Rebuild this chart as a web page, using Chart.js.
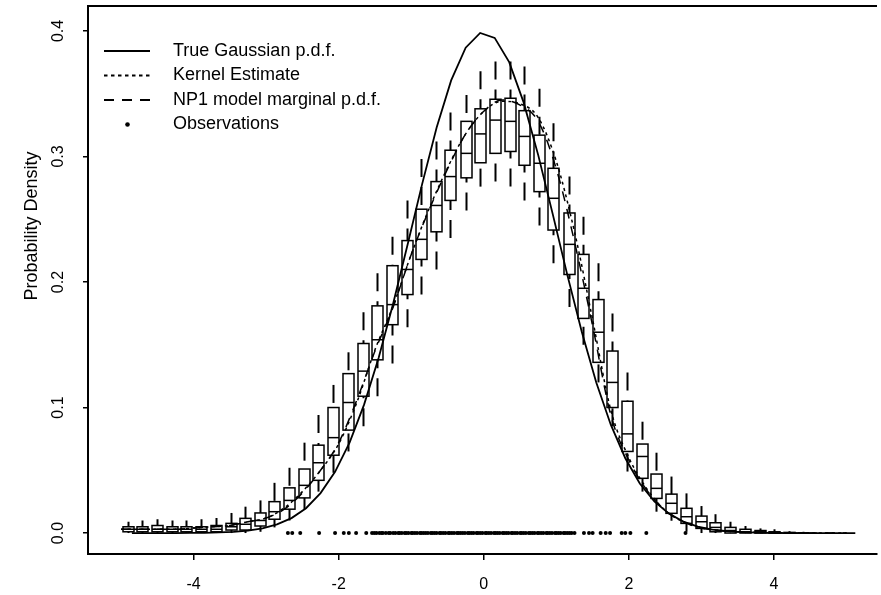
<!DOCTYPE html>
<html>
<head>
<meta charset="utf-8">
<script src="https://cdn.jsdelivr.net/npm/chart.js@4.4.0/dist/chart.umd.min.js"></script>
<style>
  html, body { margin: 0; padding: 0; background: #fff; }
  #wrap { width: 881px; height: 595px; }
</style>
</head>
<body>
<div id="wrap"><canvas id="densityChart" width="881" height="595"></canvas></div>
<script>
// box positions along x and the five numbers of each box
const boxX = [-4.91, -4.71, -4.50, -4.30, -4.10, -3.90, -3.69, -3.49, -3.29, -3.09,
  -2.89, -2.68, -2.48, -2.28, -2.08, -1.87, -1.67, -1.47, -1.27, -1.06,
  -0.86, -0.66, -0.46, -0.25, -0.05, 0.15, 0.36, 0.56, 0.76, 0.96,
  1.17, 1.37, 1.57, 1.77, 1.98, 2.18, 2.38, 2.58, 2.79, 2.99,
  3.19, 3.39, 3.60, 3.80, 4.00, 4.20, 4.40];
const boxLow = [0, 0, 0, 0, 0, 0, 0, 0, 0, 0.001,
  0.0045, 0.010, 0.019, 0.033, 0.048, 0.065, 0.085, 0.109, 0.135, 0.164,
  0.190, 0.210, 0.235, 0.257, 0.276, 0.280, 0.276, 0.265, 0.245, 0.215,
  0.180, 0.150, 0.120, 0.085, 0.049, 0.033, 0.017, 0.0098, 0.001, 0,
  0, 0, 0, 0, 0, 0, 0];
const boxQ1 = [0.001, 0.001, 0.001, 0.001, 0.001, 0.001, 0.001, 0.0024, 0.0024, 0.0056,
  0.011, 0.019, 0.028, 0.042, 0.062, 0.082, 0.109, 0.138, 0.166, 0.190,
  0.218, 0.240, 0.265, 0.283, 0.295, 0.3025, 0.304, 0.293, 0.272, 0.2414,
  0.206, 0.171, 0.136, 0.100, 0.065, 0.0436, 0.0276, 0.0157, 0.0077, 0.0037,
  0.001, 0, 0, 0, 0, 0, 0];
const boxMed = [0.003, 0.003, 0.003, 0.003, 0.003, 0.003, 0.003, 0.005, 0.007, 0.010,
  0.017, 0.026, 0.038, 0.056, 0.076, 0.104, 0.129, 0.154, 0.182, 0.210,
  0.234, 0.261, 0.284, 0.3025, 0.318, 0.329, 0.328, 0.316, 0.2946, 0.2667,
  0.230, 0.195, 0.160, 0.120, 0.079, 0.061, 0.0356, 0.0237, 0.013, 0.009,
  0.0045, 0.002, 0.001, 0.001, 0, 0, 0];
const boxQ3 = [0.005, 0.005, 0.006, 0.005, 0.005, 0.005, 0.006, 0.0077, 0.0117, 0.016,
  0.025, 0.036, 0.051, 0.070, 0.100, 0.127, 0.151, 0.181, 0.213, 0.233,
  0.258, 0.280, 0.305, 0.328, 0.338, 0.3456, 0.3464, 0.3365, 0.317, 0.2906,
  0.255, 0.222, 0.186, 0.145, 0.105, 0.0709, 0.047, 0.031, 0.0197, 0.0135,
  0.0082, 0.0045, 0.003, 0.002, 0.001, 0.0005, 0];
const boxHigh = [0.009, 0.010, 0.011, 0.010, 0.010, 0.011, 0.012, 0.016, 0.021, 0.026,
  0.040, 0.052, 0.072, 0.094, 0.118, 0.144, 0.176, 0.207, 0.236, 0.265,
  0.298, 0.312, 0.335, 0.349, 0.368, 0.3756, 0.3756, 0.3716, 0.354, 0.3265,
  0.284, 0.252, 0.215, 0.175, 0.128, 0.0887, 0.064, 0.045, 0.0316, 0.0215,
  0.015, 0.009, 0.0056, 0.0037, 0.003, 0.0015, 0.001];

// true N(0,1) density as drawn
const gaussX = [-4.85, -4.65, -4.45, -4.25, -4.05, -3.85, -3.65, -3.45, -3.25, -3.05,
  -2.85, -2.65, -2.45, -2.25, -2.05, -1.85, -1.65, -1.45, -1.25, -1.05,
  -0.85, -0.65, -0.45, -0.25, -0.05, 0.15, 0.35, 0.55, 0.75, 0.95,
  1.15, 1.35, 1.55, 1.75, 1.95, 2.15, 2.35, 2.55, 2.75, 2.95,
  3.15, 3.35, 3.55, 3.75, 3.95, 4.15, 4.35, 4.55, 4.75, 4.95, 5.12];
const gaussY = [0, 0, 0, 0, 0.0001, 0.0002, 0.0005, 0.0010, 0.0020, 0.0038,
  0.0069, 0.0119, 0.0198, 0.0318, 0.0488, 0.0721, 0.1023, 0.1395, 0.1827, 0.2299,
  0.2780, 0.3231, 0.3606, 0.3867, 0.3984, 0.3945, 0.3752, 0.3429, 0.3011, 0.2541,
  0.2059, 0.1604, 0.1200, 0.0863, 0.0596, 0.0395, 0.0252, 0.0155, 0.0091, 0.0051,
  0.0028, 0.0015, 0.0007, 0.0004, 0.0002, 0, 0, 0, 0, 0, 0];

const kernelX = [-5, -4.75, -4.5, -4.25, -4, -3.75, -3.5, -3.25, -3, -2.75,
  -2.5, -2.25, -2, -1.75, -1.5, -1.25, -1, -0.75, -0.5, -0.25,
  0, 0.25, 0.5, 0.75, 1, 1.25, 1.5, 1.75, 2, 2.25,
  2.5, 2.75, 3, 3.25, 3.5, 3.75, 4, 4.5, 5];
const kernelY = [0.003, 0.003, 0.003, 0.003, 0.004, 0.005, 0.006, 0.009, 0.012, 0.020,
  0.033, 0.050, 0.071, 0.104, 0.146, 0.181, 0.222, 0.259, 0.291, 0.318,
  0.336, 0.344, 0.342, 0.331, 0.296, 0.240, 0.170, 0.098, 0.060, 0.035,
  0.018, 0.009, 0.004, 0.002, 0.001, 0.0005, 0.0002, 0.0001, 0];

const np1X = [-5, -4.75, -4.5, -4.25, -4, -3.75, -3.5, -3.25, -3, -2.75,
  -2.5, -2.25, -2, -1.75, -1.5, -1.25, -1, -0.75, -0.5, -0.25,
  0, 0.25, 0.5, 0.75, 1, 1.25, 1.5, 1.75, 2, 2.25,
  2.5, 2.75, 3, 3.25, 3.5, 3.75, 4, 4.5, 5];
const np1Y = [0.003, 0.003, 0.003, 0.003, 0.004, 0.005, 0.006, 0.009, 0.012, 0.019,
  0.032, 0.050, 0.072, 0.106, 0.145, 0.180, 0.222, 0.258, 0.290, 0.318,
  0.336, 0.345, 0.341, 0.328, 0.290, 0.232, 0.165, 0.094, 0.058, 0.034,
  0.018, 0.009, 0.004, 0.002, 0.001, 0.0005, 0.0002, 0.0001, 0];

const obsX = [-2.70, -2.64, -2.53, -2.27, -2.05, -1.93, -1.86, -1.76, -1.62,
  -1.54, -1.51, -1.48, -1.44, -1.41, -1.39, -1.35, -1.31, -1.29, -1.25,
  -1.22, -1.18, -1.16, -1.13, -1.09, -1.07, -1.04, -1.00, -0.98, -0.95,
  -0.92, -0.88, -0.86, -0.83, -0.80, -0.77, -0.73, -0.71, -0.68, -0.65,
  -0.61, -0.59, -0.56, -0.53, -0.49, -0.47, -0.44, -0.41, -0.37, -0.35,
  -0.32, -0.29, -0.26, -0.22, -0.20, -0.17, -0.14, -0.10, -0.08, -0.05,
  -0.02, 0.02, 0.04, 0.07, 0.10, 0.14, 0.16, 0.19, 0.22, 0.26,
  0.28, 0.31, 0.34, 0.38, 0.40, 0.43, 0.46, 0.50, 0.52, 0.55,
  0.58, 0.62, 0.64, 0.67, 0.70, 0.74, 0.76, 0.79, 0.82, 0.86,
  0.88, 0.91, 0.94, 0.98, 1.00, 1.03, 1.06, 1.10, 1.12, 1.15,
  1.18, 1.21, 1.25,
  1.38, 1.45, 1.50, 1.61, 1.68, 1.74, 1.90, 1.95, 2.02, 2.24, 2.78];

const xTicks = [-4, -2, 0, 2, 4];
const yTicks = [0, 0.1, 0.2, 0.3, 0.4];
const yTickLabels = ["0.0", "0.1", "0.2", "0.3", "0.4"];
const yTitle = "Probability Density";
const legendItems = ["True Gaussian p.d.f.", "Kernel Estimate", "NP1 model marginal p.d.f.", "Observations"];

const FONT = "'Liberation Sans', Arial, Helvetica, sans-serif";
const toPoints = (xs, ys) => xs.map((x, i) => ({ x, y: ys[i] }));

const boxPlotPlugin = {
  id: "boxPlot",
  afterDatasetsDraw(chart) {
    const { ctx, scales: { x, y } } = chart;
    const half = 5.5;
    ctx.save();
    ctx.strokeStyle = "#000";
    boxX.forEach((bx, i) => {
      const px = Math.round(x.getPixelForValue(bx)) + 0.5;
      const lo = y.getPixelForValue(boxLow[i]);
      const q1 = y.getPixelForValue(boxQ1[i]);
      const md = y.getPixelForValue(boxMed[i]);
      const q3 = y.getPixelForValue(boxQ3[i]);
      const hi = y.getPixelForValue(boxHigh[i]);
      // whiskers, dashed, starting at the extremes
      ctx.lineWidth = 2;
      ctx.setLineDash([18, 10]);
      ctx.beginPath();
      ctx.moveTo(px, hi);
      ctx.lineTo(px, q3);
      ctx.stroke();
      ctx.beginPath();
      ctx.moveTo(px, lo);
      ctx.lineTo(px, q1);
      ctx.stroke();
      ctx.setLineDash([]);
      ctx.lineWidth = 1.5;
      ctx.strokeRect(px - half, q3, half * 2, q1 - q3);
      ctx.beginPath();
      ctx.moveTo(px - half, md);
      ctx.lineTo(px + half, md);
      ctx.stroke();
    });
    ctx.restore();
  }
};

const framePlugin = {
  id: "frame",
  afterDraw(chart) {
    const { ctx, chartArea, scales: { y } } = chart;
    ctx.save();
    ctx.fillStyle = "#000";
    ctx.strokeStyle = "#000";
    // top border of the plot box
    ctx.lineWidth = 2;
    ctx.beginPath();
    ctx.moveTo(chartArea.left, chartArea.top);
    ctx.lineTo(chartArea.right, chartArea.top);
    ctx.stroke();

    // rotated y tick labels
    ctx.font = `16px ${FONT}`;
    ctx.textAlign = "center";
    ctx.textBaseline = "middle";
    yTicks.forEach((v, i) => {
      ctx.save();
      ctx.translate(59, y.getPixelForValue(v));
      ctx.rotate(-Math.PI / 2);
      ctx.fillText(yTickLabels[i], 0, 0);
      ctx.restore();
    });

    // y axis title
    ctx.save();
    ctx.font = `18px ${FONT}`;
    ctx.translate(32, 226);
    ctx.rotate(-Math.PI / 2);
    ctx.fillText(yTitle, 0, 0);
    ctx.restore();

    // legend
    const rows = [51, 75.5, 100, 124.5];
    ctx.font = `18px ${FONT}`;
    ctx.textAlign = "left";
    ctx.lineWidth = 1.8;
    const dashes = [[], [3.5, 3.5], [10, 8]];
    for (let i = 0; i < 3; i++) {
      ctx.setLineDash(dashes[i]);
      ctx.beginPath();
      ctx.moveTo(104, rows[i]);
      ctx.lineTo(150, rows[i]);
      ctx.stroke();
    }
    ctx.setLineDash([]);
    ctx.beginPath();
    ctx.arc(127.5, rows[3], 2.3, 0, Math.PI * 2);
    ctx.fill();
    legendItems.forEach((label, i) => ctx.fillText(label, 173, rows[i]));
    ctx.restore();
  }
};

new Chart(document.getElementById("densityChart"), {
  type: "scatter",
  data: {
    datasets: [
      {
        label: legendItems[0],
        data: toPoints(gaussX, gaussY),
        showLine: true,
        borderColor: "#000",
        borderWidth: 1.8,
        pointRadius: 0
      },
      {
        label: legendItems[1],
        data: toPoints(kernelX, kernelY),
        showLine: true,
        borderColor: "#000",
        borderWidth: 1.5,
        borderDash: [3, 3.5],
        cubicInterpolationMode: "monotone",
        pointRadius: 0
      },
      {
        label: legendItems[2],
        data: toPoints(np1X, np1Y),
        showLine: true,
        borderColor: "#000",
        borderWidth: 1.5,
        borderDash: [10, 8],
        cubicInterpolationMode: "monotone",
        pointRadius: 0
      },
      {
        label: legendItems[3],
        data: obsX.map((x) => ({ x, y: 0 })),
        showLine: false,
        pointRadius: 2,
        pointBackgroundColor: "#000",
        pointBorderWidth: 0
      }
    ]
  },
  options: {
    responsive: false,
    animation: false,
    devicePixelRatio: 1,
    layout: { padding: { top: 6, right: 0, left: 0, bottom: 0 } },
    plugins: {
      legend: { display: false },
      tooltip: { enabled: false }
    },
    scales: {
      x: {
        type: "linear",
        min: -5.455,
        max: 5.419,
        afterBuildTicks: (scale) => { scale.ticks = xTicks.map((value) => ({ value })); },
        afterFit: (scale) => { scale.height = 41; },
        grid: { display: true, drawOnChartArea: false, drawTicks: true, tickLength: 6, color: "#000", lineWidth: 1.5 },
        border: { display: true, color: "#000", width: 2 },
        ticks: { color: "#000", font: { family: FONT, size: 16 }, padding: 15, maxRotation: 0, autoSkip: false }
      },
      y: {
        type: "linear",
        min: -0.0167,
        max: 0.4199,
        afterBuildTicks: (scale) => { scale.ticks = yTicks.map((value) => ({ value })); },
        afterFit: (scale) => { scale.width = 88; },
        grid: { display: true, drawOnChartArea: false, drawTicks: true, tickLength: 5, color: "#000", lineWidth: 1.5 },
        border: { display: true, color: "#000", width: 2 },
        ticks: { display: false }
      }
    }
  },
  plugins: [boxPlotPlugin, framePlugin]
});
</script>
</body>
</html>
